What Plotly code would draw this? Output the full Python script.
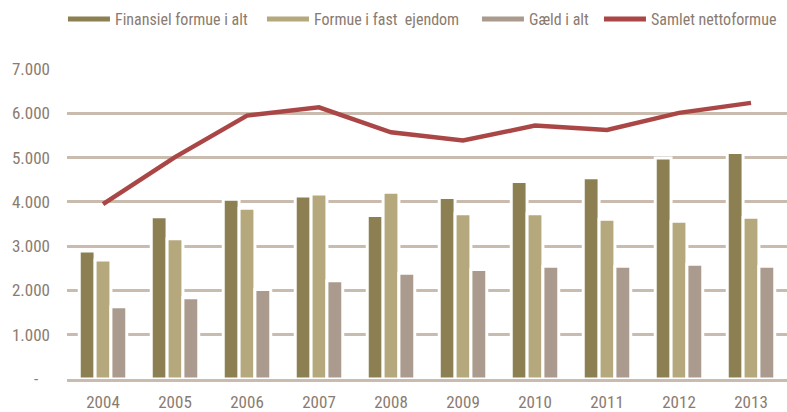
import plotly.graph_objects as go

years = ["2004", "2005", "2006", "2007", "2008", "2009", "2010", "2011", "2012", "2013"]
finansiel = [2890, 3664, 4058, 4135, 3690, 4097, 4458, 4542, 4993, 5113]
fast_ejendom = [2686, 3167, 3855, 4180, 4217, 3729, 3729, 3607, 3562, 3652]
gaeld = [1632, 1835, 2020, 2219, 2388, 2472, 2546, 2546, 2591, 2546]
netto = [3950, 5010, 5948, 6135, 5571, 5384, 5722, 5625, 6009, 6235]

names = ["Finansiel formue i alt", "Formue i fast  ejendom", "Gæld i alt", "Samlet nettoformue"]
colors = ["#8c8052", "#b5a87c", "#aa9b8e", "#aa4746"]
legend_widths = [142, 158, 65, 130]

y_tickvals = [0, 1000, 2000, 3000, 4000, 5000, 6000, 7000]
y_ticktext = ["-\u00a0\u00a0\u00a0", "1.000", "2.000", "3.000", "4.000", "5.000", "6.000", "7.000"]

FONT = "Roboto Condensed, Liberation Sans Narrow, Arial Narrow, sans-serif"
TXT = "#8a7b70"
GRID = "#c9bbae"

fig = go.Figure()
for vals, nm, c in zip([finansiel, fast_ejendom, gaeld], names[:3], colors[:3]):
    fig.add_trace(go.Bar(x=years, y=vals, name=nm, marker=dict(color=c, line=dict(color="white", width=3)),
                         showlegend=False))
fig.add_trace(go.Scatter(x=years, y=netto, name=names[3], mode="lines",
                         line=dict(color=colors[3], width=4.5), showlegend=False))
# legend entries as line swatches
for nm, c, lw in zip(names, colors, legend_widths):
    fig.add_trace(go.Scatter(x=[None], y=[None], name=nm, mode="lines",
                             line=dict(color=c, width=5), showlegend=True, legendwidth=lw))

fig.update_layout(
    width=787, height=412,
    margin=dict(l=67, r=0, t=69, b=33, autoexpand=False),
    paper_bgcolor="white", plot_bgcolor="white",
    barmode="group", bargap=0.34, bargroupgap=0,
    font=dict(family=FONT, size=17, color=TXT),
    legend=dict(orientation="h", xref="container", yref="container", x=0.080, y=0.995,
                xanchor="left", yanchor="top", font=dict(size=16, color=TXT),
                itemwidth=42, tracegroupgap=0),
    xaxis=dict(showgrid=False, showline=True, linecolor=GRID, linewidth=3, layer="above traces",
               ticks="", ticklabelstandoff=6, tickfont=dict(size=17, color=TXT)),
    yaxis=dict(range=[0, 7000], tickvals=y_tickvals, ticktext=y_ticktext,
               showgrid=True, gridcolor=GRID, gridwidth=3,
               zeroline=False,
               showline=False, ticks="", ticklabelstandoff=16,
               tickfont=dict(size=17, color=TXT)),
)

fig.write_html("out.html", config={"displayModeBar": False},
               post_script="document.body.style.margin='0';")
